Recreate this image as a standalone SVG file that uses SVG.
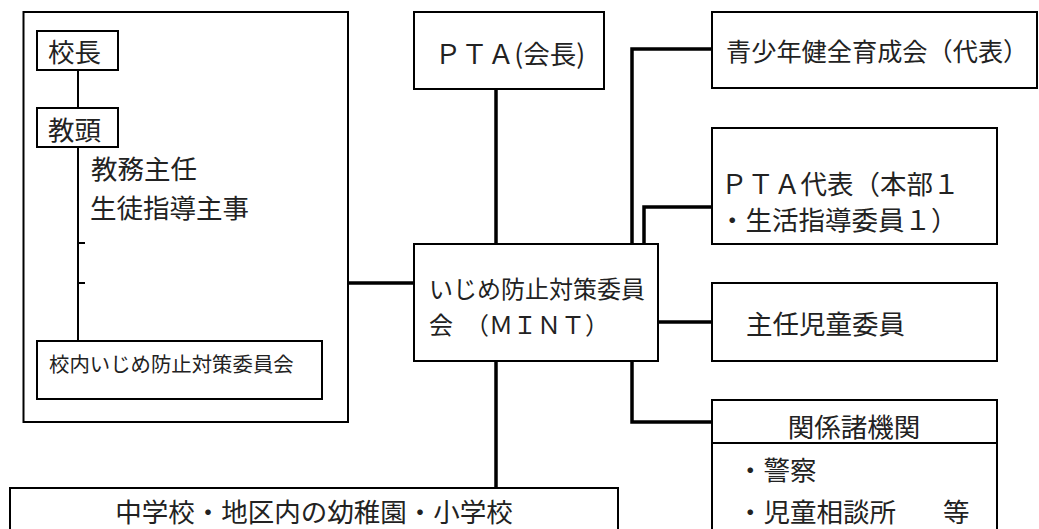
<svg xmlns="http://www.w3.org/2000/svg" width="1039" height="529" viewBox="0 0 1039 529">
<style>
.box{fill:#fff;stroke:#000;stroke-width:2}
.thin{fill:none;stroke:#000;stroke-width:2}
.con{fill:none;stroke:#000;stroke-width:3.5}
text{font-family:"Noto Sans CJK JP","Noto Sans",sans-serif;fill:#222;dominant-baseline:central;font-size:26.5px}
</style>
<rect width="1039" height="529" fill="#fff"/>
<g id="connectors">
<path class="con" d="M348,283 H414"/>
<path class="con" d="M496,89 V244"/>
<path class="con" d="M496,361 V488"/>
<path class="con" d="M632,244 V49 H712"/>
<path class="con" d="M644,244 V207 H712"/>
<path class="con" d="M658,322 H712"/>
<path class="con" d="M632,361 V422 H712"/>
</g>
<g id="school">
<rect class="box" x="23.5" y="12" width="324.5" height="410"/>
<path class="thin" d="M78,70 V108 M78,147 V341 M78,243 H85 M78,283 H85"/>
<g id="kocho">
<rect class="box" x="37" y="31" width="81" height="39"/>
<text x="48" y="50">校長</text>
</g>
<g id="kyoto">
<rect class="box" x="37" y="108" width="81" height="39"/>
<text x="48" y="128">教頭</text>
</g>
<text x="91" y="167">教務主任</text>
<text x="90" y="206">生徒指導主事</text>
<g id="konai">
<rect class="box" x="37" y="341" width="285" height="58"/>
<text x="49" y="363" style="font-size:20.4px">校内いじめ防止対策委員会</text>
</g>
</g>
<g id="pta">
<rect class="box" x="414" y="12" width="190" height="77"/>
<text x="510" y="52" text-anchor="middle">ＰＴＡ(会長)</text>
</g>
<g id="mint">
<rect class="box" x="414" y="244" width="244" height="117"/>
<text x="429" y="287" style="font-size:24px">いじめ防止対策委員</text>
<text x="429" y="323" style="font-size:24px">会　（ＭＩＮＴ）</text>
</g>
<g id="seishonen">
<rect class="box" x="712" y="12" width="325" height="76"/>
<text x="726" y="50" style="font-size:25.2px">青少年健全育成会（代表）</text>
</g>
<g id="pta-daihyo">
<rect class="box" x="712" y="128" width="285" height="116"/>
<text x="721" y="182">ＰＴＡ代表（本部１</text>
<text x="719" y="218">・生活指導委員１）</text>
</g>
<g id="shunin">
<rect class="box" x="712" y="283" width="285" height="78"/>
<text x="746" y="322">主任児童委員</text>
</g>
<g id="kankei">
<rect class="box" x="712" y="400" width="285" height="140"/>
<path class="thin" d="M712,443 H997"/>
<text x="854" y="425" text-anchor="middle">関係諸機関</text>
<text x="737" y="468">・警察</text>
<text x="737" y="510">・児童相談所<tspan x="943">等</tspan></text>
</g>
<g id="schools">
<rect class="box" x="10" y="488" width="608" height="50"/>
<text x="314" y="510" text-anchor="middle">中学校・地区内の幼稚園・小学校</text>
</g>
</svg>
